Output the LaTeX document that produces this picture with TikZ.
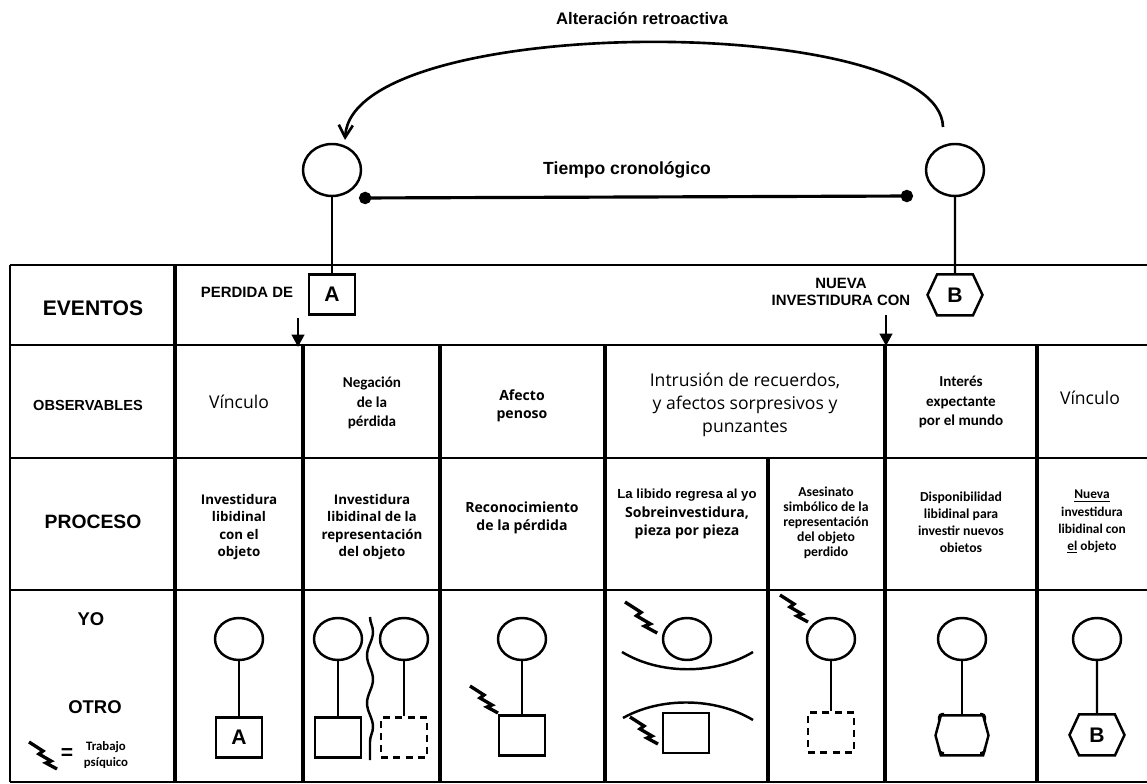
\documentclass[tikz,border=0pt]{standalone}
\usepackage{fontspec}
\setmainfont{Liberation Sans}
\newfontfamily\opensans{Open Sans}
\newfontfamily\carlito{Carlito}
\usepackage{tikz}
\usetikzlibrary{shapes.geometric, shapes.symbols, positioning, arrows.meta, decorations.pathmorphing}
\tikzset{
  ego/.style={ellipse, draw=black, line width=1.4pt, minimum width=0.96cm, minimum height=0.84cm, inner sep=0pt},
  objeto/.style={rectangle, draw=black, line width=1.4pt, minimum width=0.92cm, minimum height=0.8cm, inner sep=0pt, font=\bfseries\fontsize{12}{12}\selectfont},
  perdido/.style={objeto, dash pattern=on 4pt off 3pt},
  nuevo/.style={signal, signal to=east and west, signal pointer angle=130, draw=black, line width=1.4pt, minimum width=1.1cm, minimum height=0.82cm, inner sep=0pt, font=\bfseries\fontsize{12}{12}\selectfont},
  lazo/.style={line width=1.4pt},
  rejilla/.style={line width=1.3pt},
  columna/.style={line width=2.5pt},
  arrow/.style={line width=1.6pt, -{Triangle[length=7pt, width=7pt]}},
  rayo/.pic={
    \draw [line width=1.9pt, line join=miter] (0,0) -- (14,9) -- (10,12) -- (22,19) -- (17,21) -- (28,27);
  }
}

\begin{document}
\begin{tikzpicture}[
    x=0.02cm, y=-0.02cm,
    every node/.style={font=\bfseries\fontsize{8.5}{10}\selectfont, inner sep=0pt, align=center},
    celda/.style={font=\opensans\fontsize{10}{13}\selectfont},
    nota/.style={font=\carlito\bfseries\fontsize{8.6}{11}\selectfont},
    semi/.style={font=\opensans\bfseries\fontsize{7.6}{10}\selectfont}
  ]
  \useasboundingbox (0,0) rectangle (1147,784);

  % --- Tiempo y alteracion retroactiva ---
  \node (retro) [font=\bfseries\fontsize{9.5}{11}\selectfont] at (642,18) {Alteración retroactiva};
  \node (crono) [font=\bfseries\fontsize{10}{12}\selectfont] at (627,170) {Tiempo cronológico};

  \node (yoA) [ego, minimum width=1.16cm, minimum height=1.04cm] at (332,170) {};
  \node (yoB) [ego, minimum width=1.16cm, minimum height=1.04cm] at (955,170) {};
  \node (objA) [objeto, below=1.52cm of yoA] {A};
  \node (objB) [nuevo, below=1.52cm of yoB] {B};
  \draw [lazo] (yoA) -- (objA);
  \draw [lazo] (yoB) -- (objB);

  \coordinate (retroB) at (943,127);
  \coordinate (retroA) at (345,140);
  \draw [line width=1.5pt, -{Straight Barb[length=7pt, width=8pt]}] (retroB) .. controls (940,12) and (352,12) .. (retroA);

  \coordinate (t0) at (359,198);
  \coordinate (t1) at (913,196);
  \draw [line width=1.8pt, {Circle[length=7pt]}-{Circle[length=7pt]}] (t0) -- (t1);

  % --- Rejilla ---
  \foreach \y in {265,345,458,590,782} \draw [rejilla] (10,\y) -- (1147,\y);
  \draw [rejilla] (10,265) -- (10,782);
  \draw [columna] (175,265) -- (175,782);
  \foreach \x in {303,440,605,885,1037} \draw [columna] (\x,345) -- (\x,782);
  \draw [columna] (768,458) -- (768,782);

  % --- Eventos ---
  \node (eventos) [font=\bfseries\fontsize{12}{14}\selectfont] at (93,308) {EVENTOS};
  \node (perdida) at (247,292) {PERDIDA DE};
  \node (nueva) at (841,292) {NUEVA\\INVESTIDURA CON};
  \coordinate (fA0) at (298,318);
  \coordinate (fA1) at (298,347);
  \coordinate (fB0) at (886,315);
  \coordinate (fB1) at (886,346);
  \draw [arrow] (fA0) -- (fA1);
  \draw [arrow] (fB0) -- (fB1);

  % --- Observables ---
  \node (observ) [font=\bfseries\fontsize{8.3}{10}\selectfont] at (88,405) {OBSERVABLES};
  \node (vinc1) [celda] at (239,402) {Vínculo};
  \node (negacion) [nota] at (372,403) {Negación\\de la\\pérdida};
  \node (afecto) [semi, font=\opensans\bfseries\fontsize{8}{10.5}\selectfont] at (522,406) {Afecto\\penoso};
  \node (intrusion) [celda] at (745,405) {Intrusión de recuerdos,\\y afectos sorpresivos y\\punzantes};
  \node (interes) [nota] at (961,402) {Interés\\expectante\\por el mundo};
  \node (vinc2) [celda] at (1090,398) {Vínculo};

  % --- Proceso ---
  \node (proceso) [font=\bfseries\fontsize{11}{13}\selectfont] at (93,522) {PROCESO};
  \node (inv1) [semi] at (239,527) {Investidura\\libidinal\\con el\\objeto};
  \node (inv2) [semi] at (372,527) {Investidura\\libidinal de la\\representación\\del objeto};
  \node (recon) [semi, font=\opensans\bfseries\fontsize{8}{10}\selectfont] at (522,518) {Reconocimiento\\de la pérdida};
  \node (libido) [semi, font=\opensans\bfseries\fontsize{8}{10.5}\selectfont] at (687,514) {{\rmfamily\fontsize{7.5}{10}\selectfont La libido regresa al yo}\\Sobreinvestidura,\\pieza por pieza};
  \node (asesinato) [nota, font=\carlito\bfseries\fontsize{7.8}{8.6}\selectfont] at (826,523) {Asesinato\\simbólico de la\\representación\\del objeto\\perdido};
  \node (dispon) [nota, font=\carlito\bfseries\fontsize{7.8}{9.7}\selectfont] at (961,522) {Disponibilidad\\libidinal para\\investir nuevos\\obietos};
  \node (nuevainv) [nota, font=\carlito\bfseries\fontsize{7.6}{9.7}\selectfont] at (1092,522) {\underline{Nueva}\\investidura\\libidinal con\\\underline{el} objeto};

  % --- Yo / Otro ---
  \node (yo) [font=\bfseries\fontsize{10.5}{12}\selectfont] at (91,619) {YO};
  \node (otro) [font=\bfseries\fontsize{10.5}{12}\selectfont] at (95,707) {OTRO};
  \pic at (29,742) {rayo};
  \node (igual) [font=\bfseries\fontsize{12}{12}\selectfont] at (67,754) {=};
  \node (trabajo) [nota, font=\carlito\bfseries\fontsize{7.3}{9}\selectfont] at (106,755) {Trabajo\\psíquico};

  \node (yo1) [ego] at (239,639) {};
  \node (obj1) [objeto, below=1.1cm of yo1] {A};
  \draw [lazo] (yo1) -- (obj1);

  \node (yo2) [ego] at (338,639) {};
  \node (obj2) [objeto, below=1.1cm of yo2] {};
  \draw [lazo] (yo2) -- (obj2);
  \node (yo2b) [ego] at (404,639) {};
  \node (obj2b) [perdido, below=1.1cm of yo2b] {};
  \draw [lazo] (yo2b) -- (obj2b);
  \draw [lazo, decorate, decoration={snake, segment length=0.95cm, amplitude=0.06cm}] (370,617) -- (370,760);

  \node (yo3) [ego] at (522,639) {};
  \node (obj3) [objeto, below=1.06cm of yo3] {};
  \draw [lazo] (yo3) -- (obj3);
  \pic at (470,686) {rayo};

  \node (yo4) [ego] at (687,639) {};
  \node (obj4) [objeto] at (686,733) {};
  \draw [lazo] (622,652) .. controls (660,675) and (715,675) .. (753,652);
  \draw [lazo] (623,718) .. controls (660,697) and (715,697) .. (753,720);
  \pic [scale=1.15] at (625,602) {rayo};
  \pic at (630,717) {rayo};

  \node (yo5) [ego] at (831,639) {};
  \node (obj5) [perdido, below=1.0cm of yo5] {};
  \draw [lazo] (yo5) -- (obj5);
  \pic at (780,595) {rayo};

  \node (yo6) [ego] at (962,639) {};
  \node (obj6) [nuevo, signal pointer angle=150, minimum width=1.06cm, minimum height=0.8cm, below=1.06cm of yo6] {};
  \draw [lazo] (yo6) -- (obj6);
  \draw [lazo, rounded corners=2pt] (944,714) -- (939,714) -- (939,720);
  \draw [lazo, rounded corners=2pt] (980,714) -- (985,714) -- (985,720);
  \draw [lazo, rounded corners=2pt] (944,753) -- (939,753) -- (939,747);
  \draw [lazo, rounded corners=2pt] (980,753) -- (985,753) -- (985,747);

  \node (yo7) [ego] at (1097,639) {};
  \node (obj7) [nuevo, below=1.04cm of yo7] {B};
  \draw [lazo] (yo7) -- (obj7);
\end{tikzpicture}
\end{document}
